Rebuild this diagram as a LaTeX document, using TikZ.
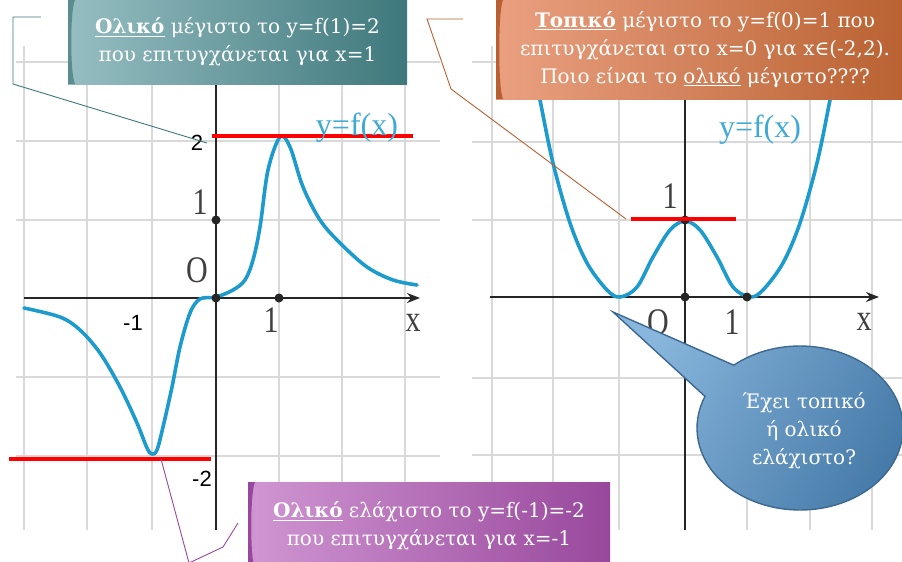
\documentclass[tikz,border=0pt]{standalone}
\usepackage{fontspec}
\setmainfont{DejaVu Serif}
\newfontfamily\axisfont{Liberation Serif}
\newfontfamily\tickfont{Liberation Sans}
\usetikzlibrary{arrows.meta}
\definecolor{curveblue}{RGB}{30,155,205}
\definecolor{tealL}{RGB}{150,190,194}
\definecolor{tealR}{RGB}{62,120,124}
\definecolor{orangeL}{RGB}{234,160,128}
\definecolor{orangeR}{RGB}{184,96,48}
\definecolor{purpleL}{RGB}{208,150,210}
\definecolor{purpleR}{RGB}{152,72,156}
\definecolor{callL}{RGB}{136,182,220}
\definecolor{callR}{RGB}{70,122,168}
\definecolor{callE}{RGB}{60,104,145}
\newcommand{\tallglyph}[1]{\scalebox{1}[1.25]{#1}}

\begin{document}
\begin{tikzpicture}[x=1pt,y=-1pt,>={Stealth[length=13pt,width=10pt]},
  gridline/.style={gray!30,line width=1.8pt},
  axisline/.style={black!85,line width=2.6pt},
  fcurve/.style={curveblue,line width=3.6pt,line cap=round},
  extline/.style={red,line width=3.6pt},
  axisdot/.style={circle,fill=black!85,inner sep=0,minimum size=9pt},
  axislbl/.style={text=black!75,font=\axisfont\fontsize{30}{30}\selectfont,inner sep=0},
  ticklbl/.style={text=black,font=\tickfont\fontsize{22}{22}\selectfont,inner sep=0},
  fxlbl/.style={text=curveblue!85,font=\axisfont\fontsize{32}{32}\selectfont,inner sep=0},
  notebox/.style={text=white,align=center,inner sep=0,font=\fontsize{20}{28}\selectfont},
  boxedge/.style={path picture={\fill[#1] (path picture bounding box.north west)
    -- ([xshift=7pt]path picture bounding box.north west)
    .. controls ([xshift=2pt,yshift=-10pt]path picture bounding box.north west)
    and ([xshift=2pt,yshift=10pt]path picture bounding box.south west)
    .. ([xshift=7pt]path picture bounding box.south west)
    -- (path picture bounding box.south west) -- cycle;}},
  leader/.style={line width=0.9pt},
  callout/.style={left color=callL,right color=callR,shading angle=60,draw=callE,line width=1.4pt},
]
\useasboundingbox (0,0) rectangle (902,562);

% grids
\foreach \gx in {24,87,152,279,342,405} \draw[gridline] (\gx,46) -- (\gx,530);
\foreach \gy in {62,141,220,377,456} \draw[gridline] (16,\gy) -- (440,\gy);
\foreach \gx in {492,553,619,747,810,872} \draw[gridline] (\gx,46) -- (\gx,530);
\foreach \gy in {62,142,220,378,455} \draw[gridline] (472,\gy) -- (902,\gy);

% left graph
\draw[axisline,->] (24,298) -- (420,298);
\draw[axisline,->] (216,530) -- (216,60);
\draw[fcurve] plot[smooth,tension=0.55] coordinates {(24,308) (60,317) (80,330) (100,353) (120,387) (137,423) (147,448) (152,454) (157,450) (163,427) (172,387) (180,347) (190,313) (200,299) (216,297) (233,290) (245,280) (253,260) (260,227) (268,170) (280,137) (290,147) (303,187) (320,220) (340,243) (367,267) (393,280) (417,285)};
\node[axisdot] (lo) at (216,298) {};
\node[axisdot] (lx1) at (279,298) {};
\node[axisdot] (ly1) at (216,220) {};
\draw[extline] (212,136) -- (413,136);
\draw[extline] (9,459) -- (211,459);
\node[ticklbl] (lt2) at (197,143) {2};
\node[ticklbl] (ltm1) at (133,323) {-1};
\node[ticklbl] (ltm2) at (202,479) {-2};
\node[axislbl] (lone) at (200,202) {\tallglyph{1}};
\node[axislbl] (lzero) at (197,270) {\tallglyph{O}};
\node[axislbl] (lonex) at (271,320) {\tallglyph{1}};
\node[axislbl] (lxx) at (413,323) {\tallglyph{x}};
\node[fxlbl] (lfx) at (357,128) {y=f(x)};

% right graph
\draw[axisline,->] (490,297) -- (879,297);
\draw[axisline,->] (685,530) -- (685,80);
\draw[fcurve] plot[smooth,tension=0.55] coordinates {(535,75) (540,100) (553,163) (570,223) (587,263) (607,290) (620,297) (637,287) (653,257) (670,230) (685,221) (700,230) (717,257) (733,287) (750,297) (763,290) (783,263) (800,223) (817,163) (830,100) (835,75)};
\node[axisdot] (ro) at (685,297) {};
\node[axisdot] (rx1) at (747,297) {};
\node[axisdot] (ry1) at (685,220) {};
\draw[extline] (631,219) -- (736,219);
\node[axislbl] (rone) at (670,196) {\tallglyph{1}};
\node[axislbl] (rzero) at (658,322) {\tallglyph{O}};
\node[axislbl] (ronex) at (732,322) {\tallglyph{1}};
\node[axislbl] (rxx) at (864,322) {\tallglyph{x}};
\node[fxlbl] (rfx) at (760,130) {y=f(x)};

% notes
\coordinate (tealA) at (41,17);
\coordinate (tealB) at (13,17);
\coordinate (tealC) at (13,84);
\coordinate (tealD) at (207,143);
\draw[leader,tealR] (tealA) -- (tealB) -- (tealC) -- (tealD);
\coordinate (orA) at (463,19);
\coordinate (orB) at (427,19);
\coordinate (orC) at (451,89);
\coordinate (orD) at (626,219);
\draw[leader,orangeR] (orA) -- (orB) -- (orC) -- (orD);
\coordinate (puA) at (161,459);
\coordinate (puB) at (189,563);
\coordinate (puC) at (223,547);
\coordinate (puD) at (238,523);
\draw[leader,purpleR] (puA) -- (puB) -- (puC) -- (puD);

\node[notebox,minimum width=339pt,minimum height=84pt,left color=tealL,right color=tealR,boxedge=tealR!85] (maxbox) at (237.5,42)
  {\underline{\textbf{Ολικό}} μέγιστο το y=f(1)=2\\που επιτυγχάνεται για x=1};
\node[notebox,minimum width=418pt,minimum height=99pt,left color=orangeL,right color=orangeR,boxedge=orangeR] (localbox) at (705,49.5)
  {\underline{\textbf{Τοπικό}} μέγιστο το y=f(0)=1 που\\επιτυγχάνεται στο x=0 για x∈(-2,2).\\Ποιο είναι το \underline{ολικό} μέγιστο????};
\node[notebox,minimum width=362pt,minimum height=88pt,left color=purpleL,right color=purpleR,boxedge=purpleR] (minbox) at (429,526)
  {\underline{\textbf{Ολικό}} ελάχιστο το y=f(-1)=-2\\που επιτυγχάνεται για x=-1};

% callout
\coordinate (calltip) at (613,312);
\coordinate (callc) at (800,428);
\path (callc) ++(230:103 and 82) coordinate (callA);
\draw[callout] (calltip) -- (callA) arc[start angle=230,end angle=562.7,x radius=103,y radius=82] -- cycle;
\node[notebox,font=\fontsize{20}{28}\selectfont] (calltxt) at (804,431) {Έχει τοπικό\\ή ολικό\\ελάχιστο?};
\end{tikzpicture}
\end{document}
